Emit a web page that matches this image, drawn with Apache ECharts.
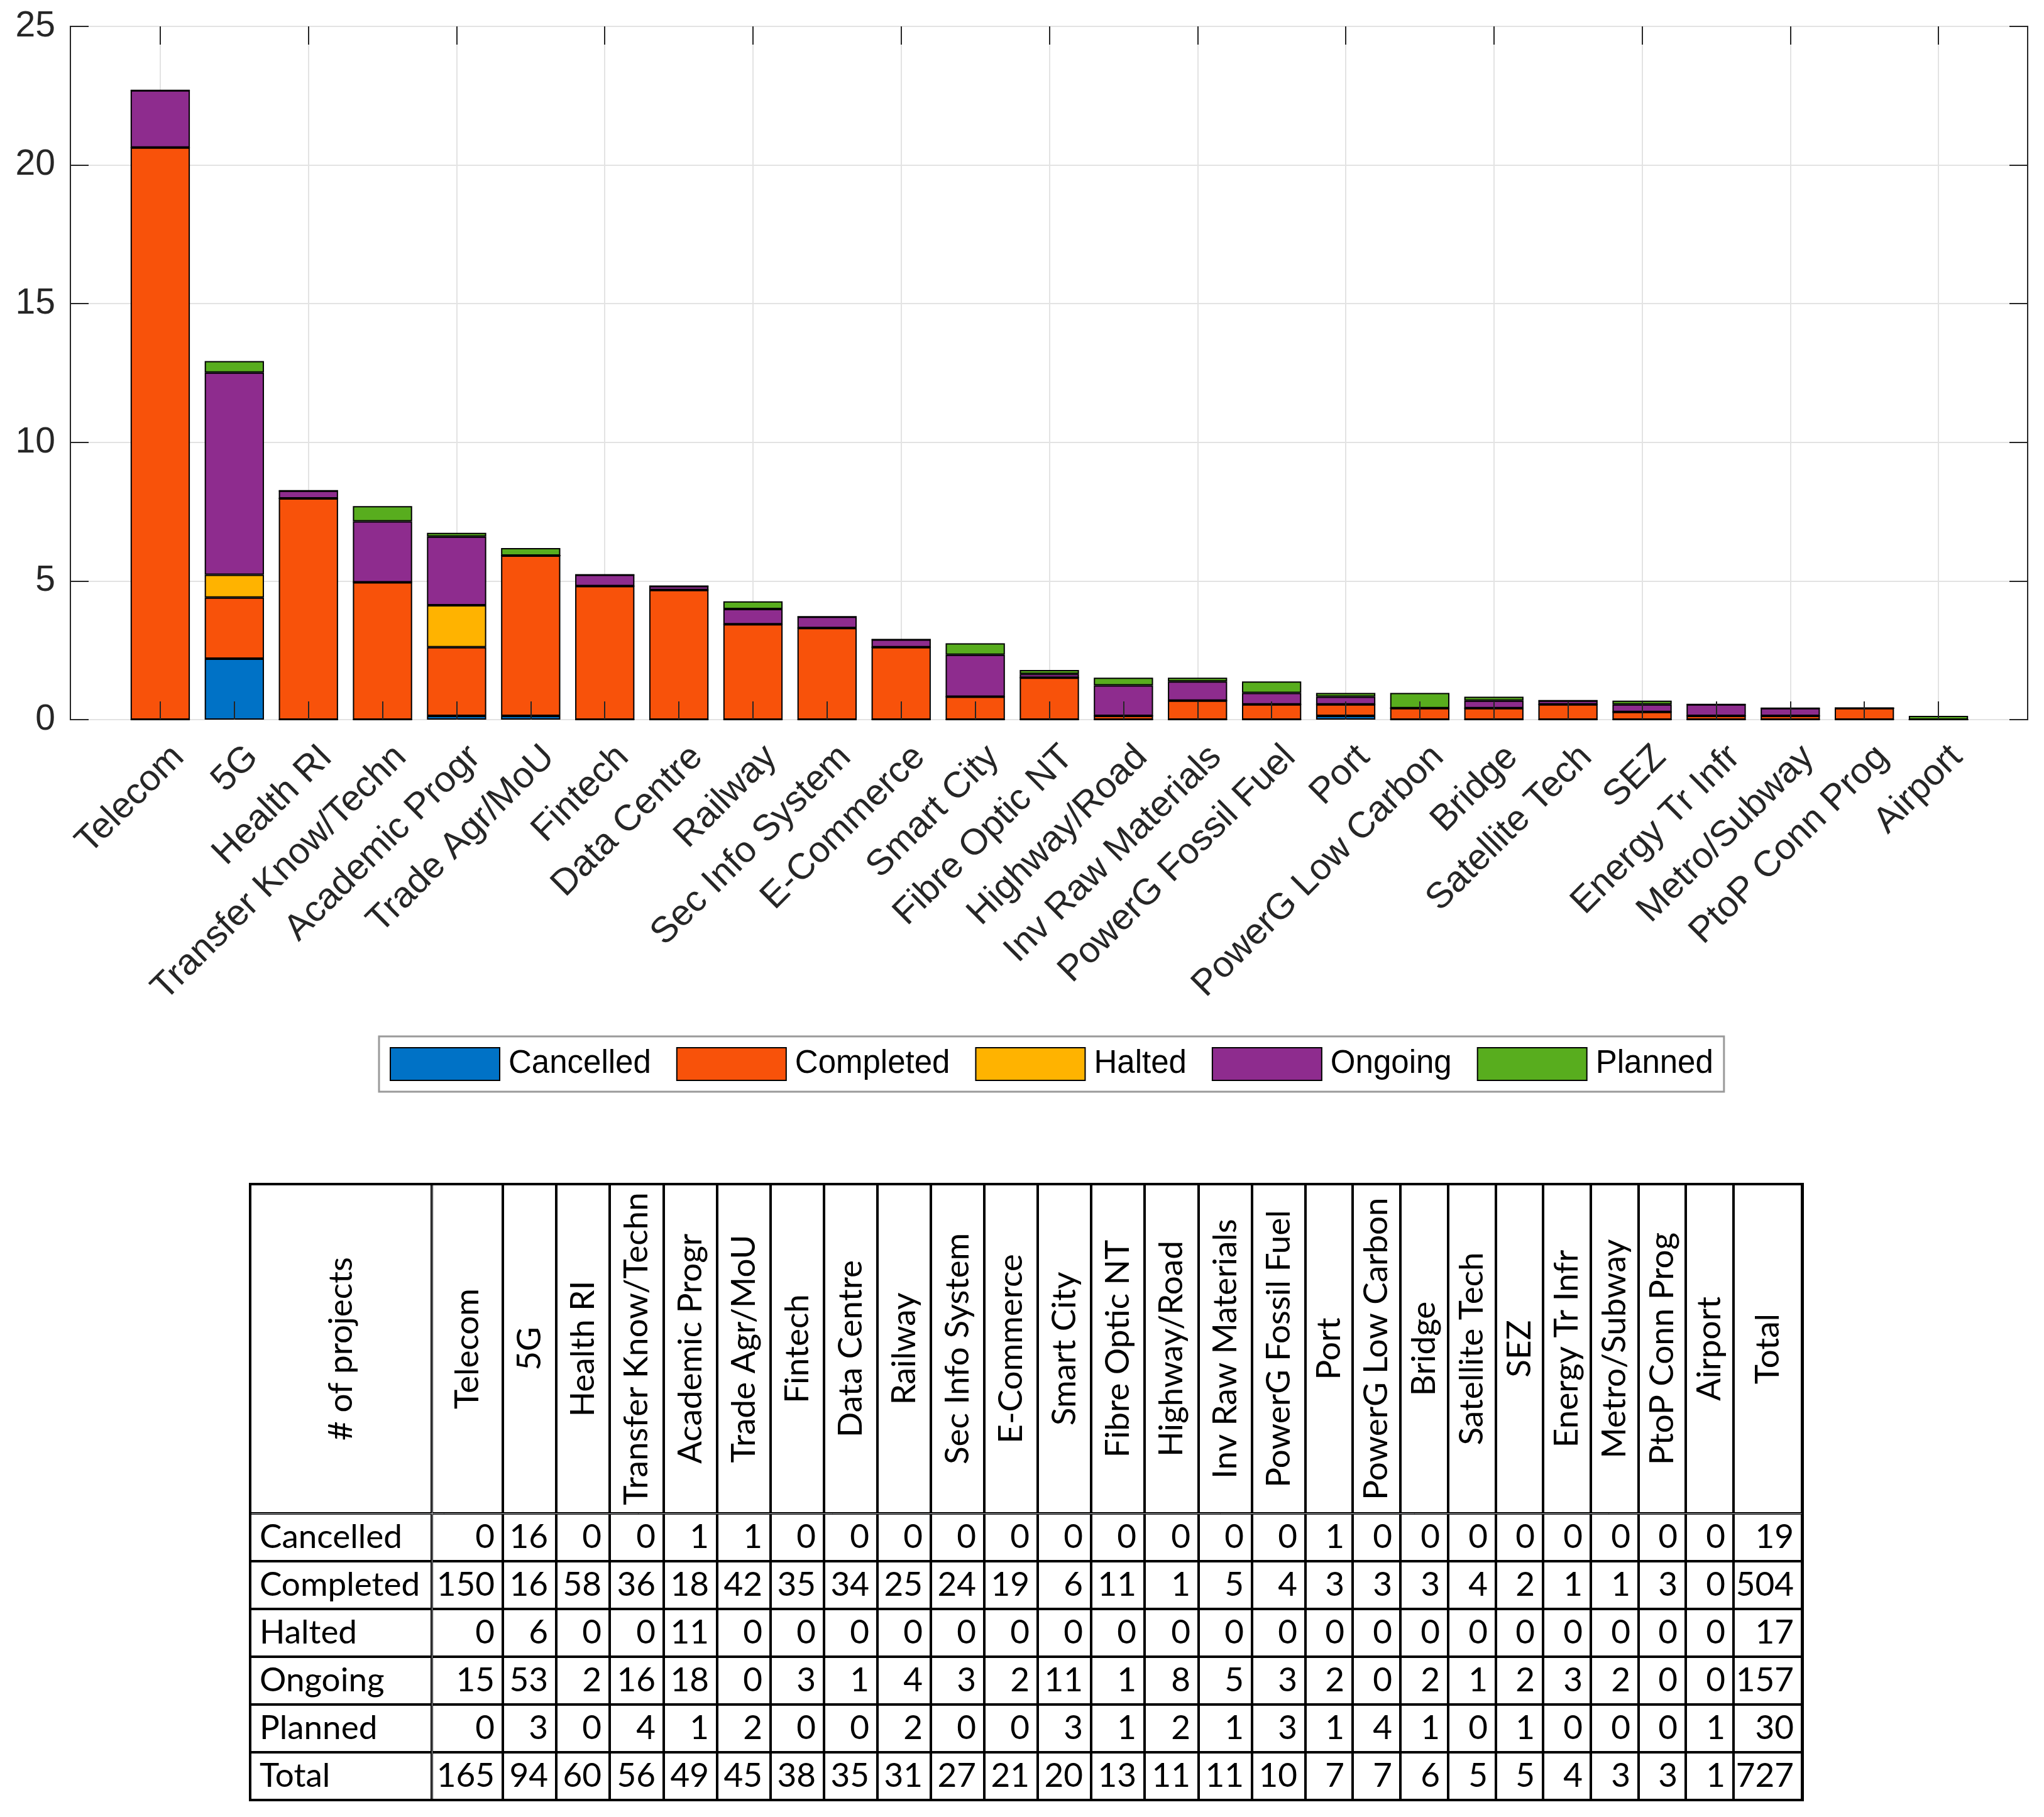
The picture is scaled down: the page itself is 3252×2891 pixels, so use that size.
<!DOCTYPE html>
<html><head><meta charset="utf-8">
<script src="https://cdn.jsdelivr.net/npm/echarts@6/dist/echarts.min.js"></script>
<style>html,body{margin:0;padding:0;background:#fff}#c{width:3252px;height:2891px}</style>
</head><body><div id="c"></div>
<script>
// ---------- data ----------
const categories = ['Telecom','5G','Health RI','Transfer Know/Techn','Academic Progr','Trade Agr/MoU','Fintech','Data Centre','Railway','Sec Info System','E-Commerce','Smart City','Fibre Optic NT','Highway/Road','Inv Raw Materials','PowerG Fossil Fuel','Port','PowerG Low Carbon','Bridge','Satellite Tech','SEZ','Energy Tr Infr','Metro/Subway','PtoP Conn Prog','Airport'];
const statuses = ['Cancelled','Completed','Halted','Ongoing','Planned'];
const cancelled = [0,16,0,0,1,1,0,0,0,0,0,0,0,0,0,0,1,0,0,0,0,0,0,0,0];
const completed = [150,16,58,36,18,42,35,34,25,24,19,6,11,1,5,4,3,3,3,4,2,1,1,3,0];
const halted    = [0,6,0,0,11,0,0,0,0,0,0,0,0,0,0,0,0,0,0,0,0,0,0,0,0];
const ongoing   = [15,53,2,16,18,0,3,1,4,3,2,11,1,8,5,3,2,0,2,1,2,3,2,0,0];
const planned   = [0,3,0,4,1,2,0,0,2,0,0,3,1,2,1,3,1,4,1,0,1,0,0,0,1];
const categoryTotals = [165,94,60,56,49,45,38,35,31,27,21,20,13,11,11,10,7,7,6,5,5,4,3,3,1];
const statusTotals = [19,504,17,157,30];
const grandTotal = 727;
const yTicks = [0,5,10,15,20,25];
const tableCorner = '# of projects';
const totalLabel = 'Total';

// ---------- styles ----------
const colors = ['#0072C6','#F8520A','#FFB300','#8E2C8E','#58AD1E'];
const axisColor = '#262626';
const gridColor = '#e3e3e3';
const labelFont = 'Liberation Sans';
const tableFont = 'Lato';
const tableColWidths = [113].concat(Array(15).fill(85.1), Array(9).fill(75.7), [109]);

const statusCounts = [cancelled, completed, halted, ongoing, planned];

const chart = echarts.init(document.getElementById('c'));

const series = statuses.map((s, i) => ({
  name: s,
  type: 'bar',
  stack: 'total',
  xAxisIndex: 1,
  yAxisIndex: 2,
  barWidth: '80%',
  itemStyle: {color: colors[i], borderColor: '#000', borderWidth: 2},
  data: statusCounts[i].map(v => v / grandTotal * 100)
}));

// table body
const tableCols = categories.concat([totalLabel]);
const tableRows = statuses.concat([totalLabel]);
const bodyData = [];
statuses.forEach((s, r) => {
  categories.forEach((c, k) => bodyData.push({coord: [c, s], value: String(statusCounts[r][k])}));
  bodyData.push({coord: [totalLabel, s], value: String(statusTotals[r])});
});
categories.forEach((c, k) => bodyData.push({coord: [c, totalLabel], value: String(categoryTotals[k])}));
bodyData.push({coord: [totalLabel, totalLabel], value: String(grandTotal)});

const cellStyle = {color: '#fff', borderColor: '#000', borderWidth: 4};
const tLabel = {fontFamily: tableFont, fontSize: 53, color: '#000'};

const option = {
  backgroundColor: '#fff',
  animation: false,
  grid: [
    {left: 112, top: 42, width: 3114, height: 1103, show: true, borderColor: axisColor, borderWidth: 2, backgroundColor: 'transparent'},
    {left: 196, top: 42, width: 2947, height: 1103}
  ],
  xAxis: [
    {type: 'value', gridIndex: 0, min: 0, max: 1, show: false},
    {type: 'category', gridIndex: 1, position: 'bottom', data: categories, z: 5,
      axisLine: {show: false},
      axisTick: {show: true, inside: true, alignWithLabel: true, length: 29, lineStyle: {color: axisColor, width: 2}},
      axisLabel: {interval: 0, rotate: 45, margin: 22, verticalAlign: 'top', padding: [12, 0, 0, 0], fontSize: 58, fontFamily: labelFont, color: axisColor},
      splitLine: {show: false}},
    {type: 'category', gridIndex: 1, position: 'top', data: categories,
      axisLine: {show: false},
      axisTick: {show: true, inside: true, alignWithLabel: true, length: 29, lineStyle: {color: axisColor, width: 2}},
      axisLabel: {show: false},
      splitLine: {show: true, alignWithLabel: true, lineStyle: {color: gridColor, width: 2}}}
  ],
  yAxis: [
    {type: 'value', gridIndex: 0, position: 'left', min: yTicks[0], max: yTicks[yTicks.length-1], interval: yTicks[1]-yTicks[0],
      axisLine: {show: true, lineStyle: {color: axisColor, width: 2}},
      axisTick: {show: true, inside: true, length: 29, lineStyle: {color: axisColor, width: 2}},
      axisLabel: {fontSize: 57, fontFamily: labelFont, color: axisColor, margin: 24},
      splitLine: {show: true, lineStyle: {color: gridColor, width: 2}}},
    {type: 'value', gridIndex: 0, position: 'right', min: yTicks[0], max: yTicks[yTicks.length-1], interval: yTicks[1]-yTicks[0],
      axisLine: {show: true, lineStyle: {color: axisColor, width: 2}},
      axisTick: {show: true, inside: true, length: 29, lineStyle: {color: axisColor, width: 2}},
      axisLabel: {show: false}, splitLine: {show: false}},
    {type: 'value', gridIndex: 1, min: yTicks[0], max: yTicks[yTicks.length-1], show: false}
  ],
  legend: {
    left: 603, top: 1649, orient: 'horizontal',
    data: statuses,
    icon: 'rect', itemWidth: 174, itemHeight: 52, itemGap: 40,
    padding: [17, 17],
    borderColor: '#9a9a9a', borderWidth: 3, backgroundColor: '#fff',
    textStyle: {fontSize: 51, fontFamily: labelFont, color: '#000', padding: [0, 0, 0, 9]}
  },
  matrix: {
    left: 398, top: 1884, width: 2470, height: 980,
    x: {
      data: tableCols.map((c, i) => ({value: c, size: tableColWidths[i]})),
      levelSize: 524,
      label: Object.assign({rotate: 90}, tLabel),
      itemStyle: cellStyle
    },
    y: {
      data: tableRows,
      levelSize: 289,
      label: Object.assign({position: 'insideLeft', distance: 12}, tLabel),
      itemStyle: cellStyle
    },
    body: {
      data: bodyData,
      label: Object.assign({position: 'insideRight', distance: 10}, tLabel),
      itemStyle: cellStyle
    },
    corner: {
      data: [{coord: [-1, -1], value: tableCorner}],
      label: Object.assign({rotate: 90}, tLabel),
      itemStyle: cellStyle
    },
    backgroundStyle: {borderColor: '#000', borderWidth: 4}
  },
  series: series
};
chart.setOption(option);
</script></body></html>
